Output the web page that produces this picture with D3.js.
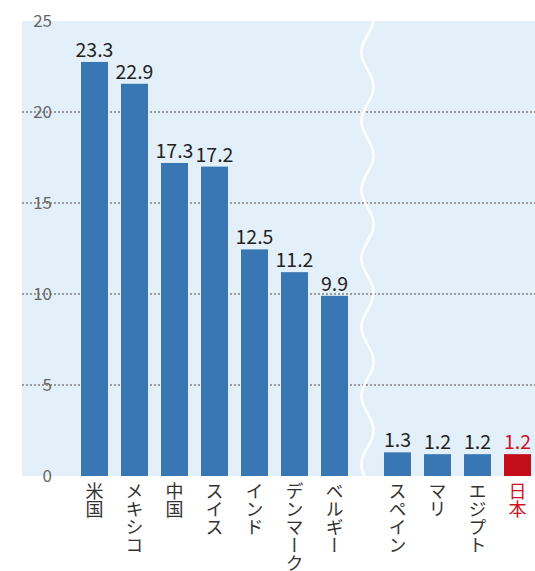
<!DOCTYPE html>
<html>
<head>
<meta charset="utf-8">
<script src="https://cdn.jsdelivr.net/npm/d3@7"></script>
<style>
  body { margin: 0; background: #fff; }
  svg { display: block; font-family: "Noto Sans CJK JP", "Noto Sans", sans-serif; }
</style>
</head>
<body>
<div id="chart"></div>
<script>
// data
// bar heights as drawn (the two tallest bars are drawn shorter than their printed labels)
var leftCats = ["米国", "メキシコ", "中国", "スイス", "インド", "デンマーク", "ベルギー"];
var leftVals = [22.75, 21.55, 17.2, 17.0, 12.45, 11.2, 9.9];
var leftLabels = ["23.3", "22.9", "17.3", "17.2", "12.5", "11.2", "9.9"];
var rightCats = ["スペイン", "マリ", "エジプト", "日本"];
var rightVals = [1.3, 1.2, 1.2, 1.2];
var rightLabels = ["1.3", "1.2", "1.2", "1.2"];
var highlight = "日本";
var yTicks = [0, 5, 10, 15, 20, 25];

var width = 535, height = 571;
var panel = { left: 22, top: 21, right: 535, bottom: 476 };

var svg = d3.select("#chart").append("svg")
  .attr("width", width)
  .attr("height", height);

var y = d3.scaleLinear().domain([0, 25]).range([panel.bottom, panel.top]);
var xLeft = d3.scaleBand().domain(leftCats).range([74.5, 354.5]).paddingInner(0.325).paddingOuter(0.1625);
var xRight = d3.scaleBand().domain(rightCats).range([377.5, 537.5]).paddingInner(0.325).paddingOuter(0.1625);

// background panel
svg.append("rect")
  .attr("x", panel.left).attr("y", panel.top)
  .attr("width", panel.right - panel.left)
  .attr("height", panel.bottom - panel.top)
  .attr("fill", "#e4f0f9");

// dotted gridlines
svg.append("g").selectAll("line")
  .data(yTicks.filter(function (d) { return d > 0 && d < 25; }))
  .enter().append("line")
  .attr("x1", panel.left).attr("x2", panel.right)
  .attr("y1", function (d) { return y(d); })
  .attr("y2", function (d) { return y(d); })
  .attr("stroke", "#9a9a9a")
  .attr("stroke-width", 2)
  .attr("stroke-dasharray", "2,2");

// y axis labels
var yAxis = svg.append("g")
  .attr("transform", "translate(52,0)")
  .call(d3.axisLeft(y).tickValues(yTicks).tickSize(0).tickPadding(0));
yAxis.select(".domain").remove();
yAxis.selectAll("text")
  .attr("fill", "#666")
  .style("font-size", "17px")
  .style("font-family", "'Noto Sans CJK JP', sans-serif");

// wave break line
var waveY = d3.range(panel.top, panel.bottom + 1, 1);
var wave = d3.line()
  .x(function (d) { return 367.5 + 6 * Math.cos(2 * Math.PI * (d - 18) / 68.7); })
  .y(function (d) { return d; })
  .curve(d3.curveBasis);
svg.append("path")
  .attr("d", wave(waveY))
  .attr("fill", "none")
  .attr("stroke", "#fff")
  .attr("stroke-width", 2.5);

function drawGroup(cats, vals, labels, x) {
  var data = cats.map(function (c, i) { return { cat: c, val: vals[i], label: labels[i] }; });
  var g = svg.append("g");
  g.selectAll("rect")
    .data(data)
    .enter().append("rect")
    .attr("x", function (d) { return x(d.cat); })
    .attr("y", function (d) { return y(d.val); })
    .attr("width", x.bandwidth())
    .attr("height", function (d) { return y(0) - y(d.val); })
    .attr("fill", function (d) { return d.cat === highlight ? "#c30d19" : "#3977b4"; });

  g.selectAll("text.val")
    .data(data)
    .enter().append("text")
    .attr("class", "val")
    .attr("x", function (d) { return x(d.cat) + x.bandwidth() / 2; })
    .attr("y", function (d) { return y(d.val) - 5; })
    .attr("text-anchor", "middle")
    .style("font-size", "19.5px")
    .attr("fill", function (d) { return d.cat === highlight ? "#d0121e" : "#222"; })
    .text(function (d) { return d.label; });

  g.selectAll("text.cat")
    .data(data)
    .enter().append("text")
    .attr("class", "cat")
    .attr("x", function (d) { return x(d.cat) + x.bandwidth() / 2; })
    .attr("y", panel.bottom + 6)
    .style("writing-mode", "vertical-rl")
    .style("font-size", "18px")
    .attr("fill", function (d) { return d.cat === highlight ? "#d0121e" : "#333"; })
    .text(function (d) { return d.cat; });
}

drawGroup(leftCats, leftVals, leftLabels, xLeft);
drawGroup(rightCats, rightVals, rightLabels, xRight);
</script>
</body>
</html>
